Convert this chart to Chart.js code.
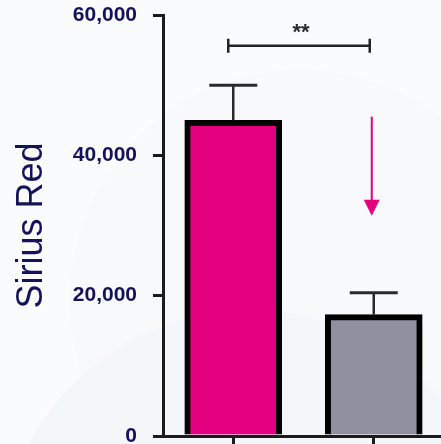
<!DOCTYPE html>
<html>
<head>
<meta charset="utf-8">
<script src="https://cdn.jsdelivr.net/npm/chart.js@4.4.1/dist/chart.umd.min.js"></script>
<style>
  html, body { margin: 0; padding: 0; background: #fafbfc; overflow: hidden; }
  #wrap { position: relative; width: 444px; height: 444px; }
</style>
</head>
<body>
<div id="wrap"><canvas id="c"></canvas></div>
<script>
// Groups and measured staining (mean ± SEM)
const groups = ['Vehicle', 'Treatment'];
const means = [45000, 17300];
const errors = [5000, 3100];
const yTicks = [0, 20000, 40000, 60000];
const yTitle = 'Sirius Red';

// Significance bracket between the two groups
const significance = '**';
const bracketLevel = 55600;

// Downward arrow above the second group
const arrowFrom = 45500;
const arrowTo = 31400;

const INK = '#1b1b1b';
const NAVY = '#14125a';
const PINK = '#e3007f';
const GREY = '#90909e';

// Soft page backdrop with faint round shapes
const backdrop = {
  id: 'backdrop',
  beforeDraw(chart) {
    const ctx = chart.ctx;
    ctx.save();
    ctx.fillStyle = '#fafbfc';
    ctx.fillRect(0, 0, chart.width, chart.height);
    ctx.fillStyle = '#f7f9fb';
    ctx.beginPath();
    ctx.arc(300, 300, 230, 0, Math.PI * 2);
    ctx.fill();
    ctx.fillStyle = '#f3f7fa';
    ctx.beginPath();
    ctx.arc(250, 560, 250, 0, Math.PI * 2);
    ctx.fill();
    ctx.restore();
  }
};

// Error bars, significance bracket and arrow, all placed through the scales
const annotations = {
  id: 'annotations',
  afterDatasetsDraw(chart) {
    const ctx = chart.ctx;
    const ys = chart.scales.y;
    const xs = chart.scales.x;
    const bars = chart.getDatasetMeta(0).data;
    ctx.save();
    ctx.strokeStyle = '#2a2a2a';
    ctx.lineCap = 'butt';

    // error bars (upper whisker only)
    bars.forEach((bar, i) => {
      const top = ys.getPixelForValue(means[i] + errors[i]);
      ctx.lineWidth = 2.5;
      ctx.beginPath();
      ctx.moveTo(bar.x, bar.y);
      ctx.lineTo(bar.x, top);
      ctx.stroke();
      ctx.lineWidth = 3;
      ctx.beginPath();
      ctx.moveTo(bar.x - 24, top);
      ctx.lineTo(bar.x + 24, top);
      ctx.stroke();
    });

    // significance bracket
    const by = ys.getPixelForValue(bracketLevel);
    const bx1 = xs.getPixelForValue(0) - 5;
    const bx2 = xs.getPixelForValue(1) - 4;
    ctx.strokeStyle = '#222';
    ctx.lineWidth = 2.5;
    ctx.beginPath();
    ctx.moveTo(bx1, by); ctx.lineTo(bx2, by);
    ctx.moveTo(bx1, by - 7); ctx.lineTo(bx1, by + 7);
    ctx.moveTo(bx2, by - 7); ctx.lineTo(bx2, by + 7);
    ctx.stroke();
    ctx.fillStyle = '#2a2a2a';
    ctx.font = 'bold 22px "Liberation Sans", Arial, sans-serif';
    ctx.textAlign = 'center';
    ctx.textBaseline = 'alphabetic';
    ctx.fillText(significance, (bx1 + bx2) / 2 + 2, by - 7);

    // arrow
    const ax = xs.getPixelForValue(1) - 2;
    const ay1 = ys.getPixelForValue(arrowFrom);
    const ay2 = ys.getPixelForValue(arrowTo);
    ctx.strokeStyle = PINK;
    ctx.fillStyle = PINK;
    ctx.lineWidth = 2;
    ctx.beginPath();
    ctx.moveTo(ax, ay1);
    ctx.lineTo(ax, ay2 - 14);
    ctx.stroke();
    ctx.beginPath();
    ctx.moveTo(ax - 8, ay2 - 16);
    ctx.lineTo(ax + 8, ay2 - 16);
    ctx.lineTo(ax, ay2);
    ctx.closePath();
    ctx.fill();
    ctx.restore();
  }
};

new Chart(document.getElementById('c'), {
  type: 'bar',
  data: {
    labels: groups,
    datasets: [{
      data: means,
      backgroundColor: [PINK, GREY],
      borderColor: '#000',
      borderWidth: 6,
      barThickness: 97
    }]
  },
  options: {
    responsive: true,
    maintainAspectRatio: false,
    animation: false,
    devicePixelRatio: 1,
    layout: { padding: { top: 15, right: 0, left: 0, bottom: 0 } },
    plugins: { legend: { display: false }, tooltip: { enabled: false } },
    scales: {
      x: {
        offset: true,
        afterFit(scale) {
          scale.height = 8;
          scale.paddingLeft = 0; scale.paddingRight = 0;
        },
        grid: {
          offset: false,
          drawOnChartArea: false,
          color: INK,
          lineWidth: 3,
          tickLength: 8
        },
        border: { color: INK, width: 3 },
        ticks: { display: false }
      },
      y: {
        min: 0,
        max: 60000,
        afterBuildTicks(scale) { scale.ticks = yTicks.map(v => ({ value: v })); },
        afterFit(scale) {
          scale.width = 163;
          scale.paddingTop = 0; scale.paddingBottom = 0;
        },
        grid: {
          drawOnChartArea: false,
          color: INK,
          lineWidth: 3,
          tickLength: 10
        },
        border: { color: INK, width: 3 },
        ticks: {
          padding: 16,
          color: NAVY,
          font: { family: '"Liberation Sans", Arial, sans-serif', size: 21, weight: 'bold' },
          callback: v => Number(v).toLocaleString('en-US')
        },
        title: {
          display: true,
          text: yTitle,
          color: NAVY,
          padding: { top: 10, bottom: 0 },
          font: { family: '"Liberation Sans", Arial, sans-serif', size: 36, weight: 'normal' }
        }
      }
    }
  },
  plugins: [backdrop, annotations]
});
</script>
</body>
</html>
